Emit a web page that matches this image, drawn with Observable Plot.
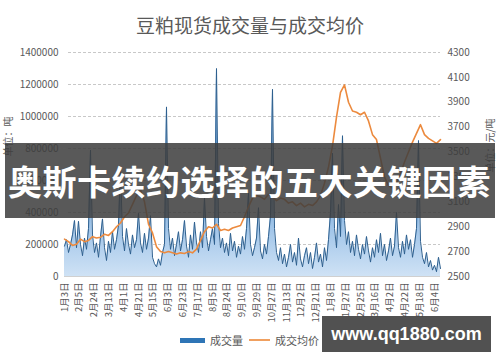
<!DOCTYPE html>
<html><head><meta charset="utf-8">
<script src="https://cdn.jsdelivr.net/npm/d3@7"></script>
<script src="https://cdn.jsdelivr.net/npm/@observablehq/plot@0.6"></script>
<style>
body{margin:0;background:#fff;font-family:"Noto Sans CJK SC","Noto Sans",sans-serif;}
#wrap{position:relative;width:500px;height:362px;overflow:hidden;background:#fff}
#title{position:absolute;left:0;width:500px;top:12px;text-align:center;font-size:19px;color:#595959;line-height:26px}
#chart{position:absolute;left:0;top:0}
#legend{position:absolute;top:331px;left:180px;font-size:11px;color:#595959;display:flex;align-items:center;line-height:18px}
.sw1{display:inline-block;width:25px;height:5px;background:#2e75b6;margin-right:5px}
.sw2{display:inline-block;width:21px;height:2px;background:#f0a060;margin:0 5px 0 6px}
#banner{position:absolute;left:5px;top:143px;width:490px;height:75px;background:rgba(62,62,62,0.86);color:#fff;font-weight:bold;font-size:34px;line-height:75px;white-space:nowrap;text-indent:3px;letter-spacing:0.5px}
#wm{position:absolute;left:322px;top:316px;width:169px;height:36px;background:rgba(62,62,62,0.9);color:#fff;font-family:"Liberation Sans",Arial,sans-serif;font-weight:bold;font-size:18px;line-height:36px;text-align:center}
</style></head><body>
<div id="wrap">
 <div id="title">豆粕现货成交量与成交均价</div>
 <div id="chart"></div>
 <div id="legend"><span class="sw1"></span>成交量<span class="sw2"></span>成交均价</div>
 <div id="banner">奥斯卡续约选择的五大关键因素</div>
 <div id="wm">www.qq1880.com</div>
</div>
<script>
// 成交量（千吨），按日序号
const volumeK = [190,230,150,200,260,350,180,345,200,130,240,170,300,790,260,150,210,120,250,360,
180,100,220,150,280,170,230,320,690,250,160,300,200,140,260,180,230,395,210,150,
270,170,240,380,120,80,60,110,70,150,200,1060,300,170,240,130,200,280,160,230,
350,190,120,260,170,340,210,150,280,180,490,250,160,230,300,200,1300,330,180,240,
150,210,130,270,160,220,120,190,140,250,170,300,520,200,130,180,240,430,160,110,
200,140,250,380,1170,300,150,100,180,80,140,60,120,200,90,150,70,240,110,60,
130,180,80,150,50,120,210,90,140,60,180,100,230,400,770,300,180,450,250,880,
350,200,280,150,220,130,260,170,110,200,140,250,160,90,180,120,230,150,270,130,
200,100,160,240,130,190,400,180,120,220,140,260,170,230,120,200,300,850,220,120,
80,150,60,100,40,70,30,120,50];
// 成交均价（元/吨），每隔两个日序号一个值
const price = [2800,2780,2750,2760,2800,2780,2790,2820,2810,2815,2840,2830,2860,2900,2930,2980,3010,3080,3150,3200,
3100,2920,2850,2740,2700,2690,2700,2690,2680,2690,2685,2700,2690,2720,2790,2860,2900,2890,2920,2870,
2880,2870,2890,2900,2910,2980,3060,3130,3150,3140,3120,3160,3140,3110,3130,3120,3090,3100,3070,3090,
3060,3080,3070,3100,3150,3250,3380,3550,3780,3980,4040,3900,3830,3820,3800,3820,3750,3640,3600,3450,
3300,3230,3210,3250,3330,3420,3500,3580,3650,3720,3640,3610,3590,3570,3600];
const xTickLabels = ["1月3日","2月5日","2月24日","3月13日","4月1日","4月21日","5月15日","6月3日","6月23日","7月17日","8月5日","8月24日","9月10日","9月29日","10月27日","11月13日","12月2日","12月21日","1月8日","1月27日","2月25日","3月16日","4月2日","4月22日","5月18日","6月4日"];
const xTickIdx = [1.5,8.9,16.3,23.7,31.1,38.5,45.9,53.3,60.7,68.1,75.5,82.9,90.3,97.7,105.1,112.5,119.9,127.3,134.7,142.1,149.5,156.9,164.3,171.7,179.1,186.5];
const leftTicks = [0,200000,400000,600000,800000,1000000,1200000,1400000];
const rightTicks = [2500,2700,2900,3100,3300,3500,3700,3900,4100,4300];
const pMin = 2500, pMax = 4300, vMax = 1400000;

const vol = volumeK.map((v,i)=>({i, v: v*1000}));
const pr = price.map((p,j)=>({i: j*2, p}));
const toV = p => (p - pMin) / (pMax - pMin) * vMax;
const xt = xTickIdx.map((i,k)=>({i, label: xTickLabels[k]}));

const chart = Plot.plot({
  width: 500, height: 330,
  marginLeft: 64, marginRight: 60, marginTop: 52, marginBottom: 54,
  style: {fontFamily: '"Noto Sans CJK SC","Noto Sans",sans-serif', color: "#595959", background: "transparent"},
  x: {domain: [0, volumeK.length - 1], axis: null},
  y: {domain: [0, vMax], axis: null},
  marks: [
    Plot.ruleY(leftTicks.filter(d=>d>0), {stroke: "#c8c8c8", strokeDasharray: "3,2", x1: 2, x2: volumeK.length - 1}),
    Plot.areaY(vol, {x: "i", y: "v", fill: "url(#volGrad)"}),
    Plot.lineY(vol, {x: "i", y: "v", stroke: "#2d5f8e", strokeWidth: 1}),
    Plot.ruleY([0], {stroke: "#d0d0d0"}),
    Plot.lineY(pr, {x: "i", y: d => toV(d.p), stroke: "#ec8a3e", strokeWidth: 1.6}),
    Plot.text(leftTicks, {y: d => d, text: d => String(d), frameAnchor: "left", textAnchor: "end", dx: -6, fontSize: 10, fill: "#595959"}),
    Plot.text(rightTicks, {y: d => toV(d), text: d => String(d), frameAnchor: "right", textAnchor: "start", dx: 7, fontSize: 10, fill: "#595959"}),
    Plot.text(xt, {x: "i", text: "label", frameAnchor: "bottom", rotate: -90, textAnchor: "end", dy: 6, fontSize: 9.5, fill: "#595959"}),
    Plot.text(["单位：吨"], {frameAnchor: "left", dx: -56, dy: -8, rotate: -90, textAnchor: "start", fontSize: 10, fill: "#595959"}),
    Plot.text(["单位：元/吨"], {frameAnchor: "right", dx: 50, dy: 8, rotate: -90, textAnchor: "start", fontSize: 10, fill: "#595959"})
  ]
});
const defs = d3.select(chart).insert("defs", ":first-child");
const g = defs.append("linearGradient").attr("id", "volGrad").attr("x1", 0).attr("y1", 0).attr("x2", 0).attr("y2", 1);
g.append("stop").attr("offset", "0%").attr("stop-color", "#3f7fc0");
g.append("stop").attr("offset", "60%").attr("stop-color", "#7fb0e0");
g.append("stop").attr("offset", "100%").attr("stop-color", "#cfe2f5");
document.getElementById("chart").appendChild(chart);
</script>
</body></html>
